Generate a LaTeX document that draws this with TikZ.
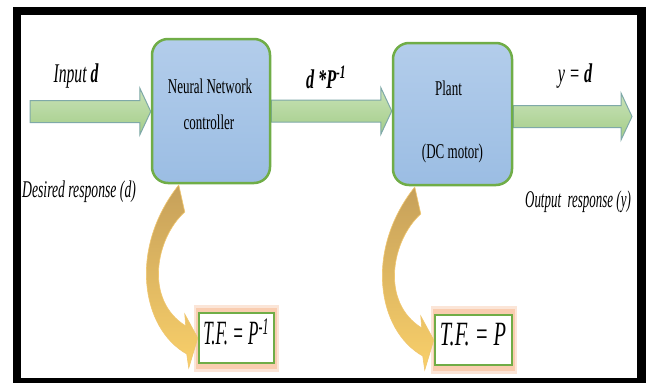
\documentclass[tikz,border=0pt]{standalone}
\usepackage{fontspec}
\setmainfont{Liberation Serif}
\usetikzlibrary{calc,backgrounds}
\definecolor{boxgreen}{HTML}{70AD47}
\definecolor{boxblueT}{HTML}{B3CDEB}
\definecolor{boxblueB}{HTML}{9BBDE3}
\definecolor{arrT}{HTML}{C9E2B8}
\definecolor{arrB}{HTML}{A3CD88}
\definecolor{arrEdge}{HTML}{7FA9A8}
\definecolor{goldT}{HTML}{C6A05A}
\definecolor{goldB}{HTML}{F9D06A}
\definecolor{goldEdge}{HTML}{F0C66E}
\definecolor{glow}{HTML}{F9CDB0}
\newcommand\sqz[2]{\scalebox{#1}[1]{#2}}
\newcommand\myblockarrow[2]{%
  \path[garrow] let \p1=(#1), \p2=(#2) in
   (\x1,\y1+11pt) -- (\x2-11pt,\y1+11pt) -- (\x2-11pt,\y1+23.5pt) -- (\x2,\y1)
   -- (\x2-11pt,\y1-23.5pt) -- (\x2-11pt,\y1-11pt) -- (\x1,\y1-11pt) -- cycle;}
\newcommand\mycurvearrow[1]{%
  \begin{scope}[shift={(#1)}]
    \path[gold] (-19,-153) -- (-13,-126) .. controls (-42,-100) and (-54,-38) .. (-12,-12)
      -- (-13,-24) -- (0,0) -- (-9,30) -- (-11,16)
      .. controls (-57,-10) and (-69,-90) .. (-19,-153) -- cycle;
  \end{scope}}
\begin{document}
\begin{tikzpicture}[x=1pt,y=-1pt,
  garrow/.style={top color=arrT, bottom color=arrB, draw=arrEdge, line width=1pt},
  gold/.style={top color=goldT, bottom color=goldB, draw=goldEdge, line width=0.6pt},
  blk/.style={draw=boxgreen, line width=2.5pt, rounded corners=16pt, top color=boxblueT, bottom color=boxblueB},
  tfbox/.style={draw=boxgreen, line width=2.5pt, fill=white, inner sep=0pt},
  lbl/.style={inner sep=0pt, anchor=base}]
\useasboundingbox (0,0) rectangle (646,383);
\begin{pgfonlayer}{background}
  \fill[white] (0,0) rectangle (646,383);
  \fill[black] (13,7) rectangle (646,383);
  \fill[white] (21,15) rectangle (637,378);
\end{pgfonlayer}

% blocks
\node[blk, minimum width=118pt, minimum height=144pt] (nn) at (211,111) {};
\node[blk, minimum width=119pt, minimum height=142pt] (plant) at (452.5,114) {};
\node[tfbox, minimum width=75pt, minimum height=50pt] (tf1) at (236.5,338) {};
\node[tfbox, minimum width=77pt, minimum height=50pt] (tf2) at (473.5,340) {};

\coordinate (inS) at (30,111.5);
\coordinate (outE) at (632,116.5);

\begin{pgfonlayer}{background}
  \fill[glow, opacity=0.5] ($(tf1.north west)+(-4,-7)$) rectangle ($(tf1.south east)+(4,8)$);
  \fill[glow] ($(tf1.north west)+(-2,-4)$) rectangle ($(tf1.south east)+(2,5)$);
  \fill[glow, opacity=0.5] ($(tf2.north west)+(-3,-8)$) rectangle ($(tf2.south east)+(4,8)$);
  \fill[glow] ($(tf2.north west)+(-1,-5)$) rectangle ($(tf2.south east)+(2,5)$);
  \myblockarrow{inS}{nn.west}
  \myblockarrow{nn.east}{plant.west}
  \myblockarrow{$(plant.east)+(0,2.5)$}{outE}
\end{pgfonlayer}

\mycurvearrow{tf1.west}
\mycurvearrow{tf2.west}

% texts
\node[lbl, font=\fontsize{27}{30}\selectfont\itshape] (tin) at (76,82) {\sqz{0.58}{Input \textbf{d}}};
\node[lbl, font=\fontsize{21}{24}\selectfont] (tnn1) at (210,93) {\sqz{0.62}{Neural Network}};
\node[lbl, font=\fontsize{21}{24}\selectfont] (tnn2) at (209,129.5) {\sqz{0.62}{controller}};
\node[lbl, font=\fontsize{27}{30}\selectfont\itshape\bfseries] (tmid) at (326,88) {\sqz{0.6}{d *P\textsuperscript{-1}}};
\node[lbl, font=\fontsize{21}{24}\selectfont] (tpl1) at (448.5,95) {\sqz{0.62}{Plant}};
\node[lbl, font=\fontsize{21}{24}\selectfont] (tpl2) at (452.5,158) {\sqz{0.62}{(DC motor)}};
\node[lbl, font=\fontsize{27}{30}\selectfont\itshape] (tout) at (575,82) {\sqz{0.6}{y = \textbf{d}}};
\node[lbl, anchor=base west, font=\fontsize{24}{26}\selectfont\itshape] (tdes) at (22,197) {\sqz{0.57}{Desired response (d)}};
\node[lbl, font=\fontsize{24}{26}\selectfont\itshape] (tor) at (578,207) {\sqz{0.54}{Output\ \ response (y)}};
\node[lbl, font=\fontsize{34}{36}\selectfont\itshape] (ttf1) at (236,344) {\sqz{0.5}{T.F. = P\textsuperscript{-1}}};
\node[lbl, font=\fontsize{34}{36}\selectfont\itshape] (ttf2) at (473,345) {\sqz{0.6}{T.F. = P}};
\end{tikzpicture}
\end{document}
